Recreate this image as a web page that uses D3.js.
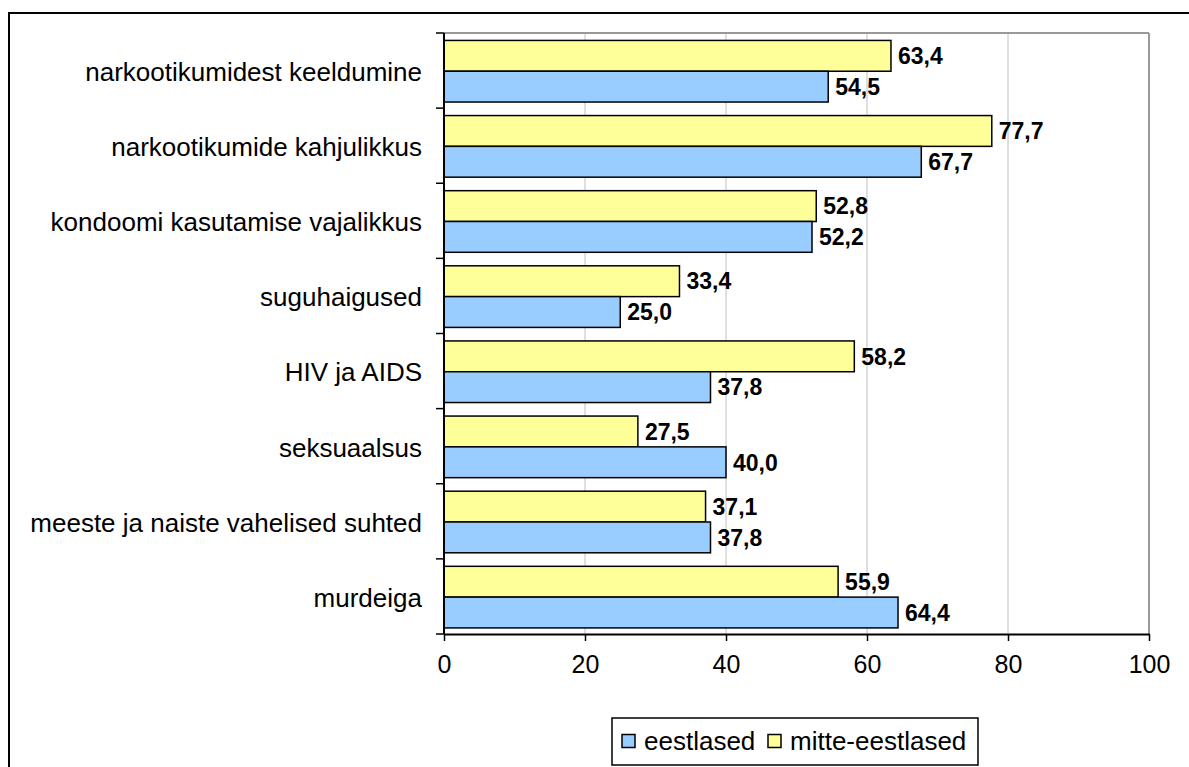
<!DOCTYPE html>
<html>
<head>
<meta charset="utf-8">
<script src="https://cdn.jsdelivr.net/npm/d3@7"></script>
<style>
  html, body { margin: 0; padding: 0; background: #fff; }
  svg { display: block; font-family: Arial, "Liberation Sans", sans-serif; }
</style>
</head>
<body>
<svg id="chart" width="1189" height="767"></svg>
<script>
// Topics, top to bottom
const categories = [
  "narkootikumidest keeldumine",
  "narkootikumide kahjulikkus",
  "kondoomi kasutamise vajalikkus",
  "suguhaigused",
  "HIV ja AIDS",
  "seksuaalsus",
  "meeste ja naiste vahelised suhted",
  "murdeiga"
];
const seriesNames = ["eestlased", "mitte-eestlased"];
const eestlased      = [54.5, 67.7, 52.2, 25.0, 37.8, 40.0, 37.8, 64.4];
const mitteEestlased = [63.4, 77.7, 52.8, 33.4, 58.2, 27.5, 37.1, 55.9];
const xTicks = [0, 20, 40, 60, 80, 100];

const colors = { "eestlased": "#99ccff", "mitte-eestlased": "#ffff99" };
const FONT = "Arial, 'Liberation Sans', sans-serif";

const svg = d3.select("#chart");

// outer frame
svg.append("rect")
  .attr("x", 9).attr("y", 13).attr("width", 1200).attr("height", 800)
  .attr("fill", "none").attr("stroke", "#000").attr("stroke-width", 2);

const plot = { left: 444, right: 1149, top: 33, bottom: 634 };

const x = d3.scaleLinear().domain([0, 100]).range([plot.left, plot.right]);
const y = d3.scaleBand().domain(categories).range([plot.top, plot.bottom]).paddingInner(0.18).paddingOuter(0.09).align(0.55);
// within each band: mitte-eestlased on top, eestlased below
const sub = d3.scaleBand().domain(["mitte-eestlased", "eestlased"]).range([0, y.bandwidth()]);
const band = d3.scaleBand().domain(categories).range([plot.top, plot.bottom]);

// gridlines
svg.append("g").selectAll("line")
  .data(xTicks.filter(d => d > 0))
  .join("line")
  .attr("x1", d => x(d)).attr("x2", d => x(d))
  .attr("y1", plot.top).attr("y2", plot.bottom)
  .attr("stroke", d => d === 100 ? "#999" : "#c0c0c0")
  .attr("stroke-width", d => d === 100 ? 2 : 1);

// plot top border
svg.append("line")
  .attr("x1", plot.left).attr("x2", plot.right)
  .attr("y1", plot.top).attr("y2", plot.top)
  .attr("stroke", "#999").attr("stroke-width", 2);

// bars
const rows = categories.map((c, i) => ({ c, vals: [
  { s: "mitte-eestlased", v: mitteEestlased[i] },
  { s: "eestlased", v: eestlased[i] }
]}));

const g = svg.append("g");
rows.forEach(r => {
  r.vals.forEach(d => {
    const yy = y(r.c) + sub(d.s);
    g.append("rect")
      .attr("x", x(0)).attr("y", yy)
      .attr("width", x(d.v) - x(0)).attr("height", sub.bandwidth())
      .attr("fill", colors[d.s]).attr("stroke", "#000").attr("stroke-width", 1.5);
    g.append("text")
      .attr("x", x(d.v) + 7).attr("y", yy + sub.bandwidth() / 2)
      .attr("dy", "0.36em")
      .attr("font-family", FONT)
      .attr("font-size", 23).attr("font-weight", "bold")
      .text(d3.format(".1f")(d.v).replace(".", ","));
  });
});

// x axis
const xAxis = d3.axisBottom(x).tickValues(xTicks).tickSize(7).tickPadding(14).tickSizeOuter(0);
const gx = svg.append("g").attr("transform", `translate(0,${plot.bottom})`).call(xAxis);
gx.attr("font-size", null).attr("font-family", null);
gx.select(".domain").attr("stroke", "#000").attr("stroke-width", 2);
gx.selectAll(".tick line").attr("stroke", "#000").attr("stroke-width", 1.5);
gx.selectAll("text").attr("font-size", 25).attr("fill", "#000").attr("font-family", FONT);

// y axis: category boundary ticks
svg.append("line")
  .attr("x1", plot.left).attr("x2", plot.left)
  .attr("y1", plot.top).attr("y2", plot.bottom)
  .attr("stroke", "#000").attr("stroke-width", 2);
const bounds = categories.map(c => band(c)).concat([plot.bottom]);
svg.append("g").selectAll("line").data(bounds).join("line")
  .attr("x1", plot.left - 8).attr("x2", plot.left)
  .attr("y1", d => d).attr("y2", d => d)
  .attr("stroke", "#000").attr("stroke-width", 1.5);

svg.append("g").selectAll("text").data(categories).join("text")
  .attr("x", 422)
  .attr("y", d => band(d) + band.bandwidth() / 2)
  .attr("dy", "0.4em")
  .attr("text-anchor", "end")
  .attr("font-family", FONT)
  .attr("font-size", 26)
  .text(d => d);

// legend
const lg = svg.append("g");
lg.append("rect").attr("x", 612).attr("y", 718).attr("width", 366).attr("height", 47)
  .attr("fill", "#fff").attr("stroke", "#000").attr("stroke-width", 1.5);
const legendItems = [
  { s: "eestlased", x: 622 },
  { s: "mitte-eestlased", x: 768 }
];
legendItems.forEach(it => {
  lg.append("rect").attr("x", it.x).attr("y", 734.5).attr("width", 13).attr("height", 13)
    .attr("fill", colors[it.s]).attr("stroke", "#000").attr("stroke-width", 1.5);
  lg.append("text").attr("x", it.x + 22).attr("y", 741).attr("dy", "0.36em")
    .attr("font-family", FONT)
    .attr("font-size", 26).text(it.s);
});
</script>
</body>
</html>
